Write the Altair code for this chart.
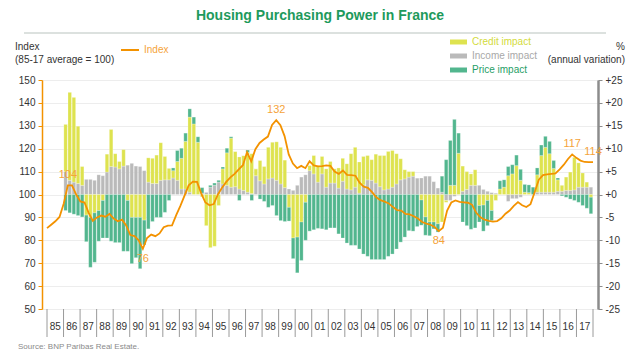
import altair as alt
import pandas as pd

# ---------------- data ----------------
# quarterly, 1985Q1 .. 2017Q4 for index; impacts start 1986Q1
year_labels = [f"{y % 100:02d}" for y in range(1985, 2018)]

index_vals = [
    85.3, 86.8, 88.3, 90.2,      # 1985
    96.0, 104.0, 104.0, 100.0,   # 1986
    97.0, 96.5, 92.0, 88.5,      # 1987
    90.0, 90.8, 90.3, 91.5,      # 1988
    89.5, 88.3, 89.0, 86.5,      # 1989
    82.3, 81.8, 80.0, 76.3,      # 1990
    81.0, 82.5, 81.8, 83.0,      # 1991
    85.7, 86.4, 86.5, 91.0,      # 1992
    95.0, 99.5, 104.0, 105.6,    # 1993
    105.5, 100.5, 96.5, 95.3,    # 1994
    95.8, 100.0, 103.0, 105.5,   # 1995
    107.5, 109.0, 111.0, 112.8,  # 1996
    118.5, 114.5, 119.8, 122.5,  # 1997
    124.0, 125.3, 130.4, 132.5,  # 1998
    130.3, 125.5, 117.5, 113.5,  # 1999
    111.5, 112.5, 111.5, 114.5,  # 2000
    112.7, 112.3, 112.4, 112.7,  # 2001
    112.5, 110.0, 109.0, 110.5,  # 2002
    108.6, 108.5, 108.2, 105.2,  # 2003
    103.4, 102.9, 101.0, 98.8,   # 2004
    97.5, 96.9, 96.1, 94.5,      # 2005
    93.2, 93.0, 91.5, 91.3,      # 2006
    90.5, 89.5, 88.0, 87.3,      # 2007
    86.8, 85.8, 84.0, 85.5,      # 2008
    93.0, 96.5, 97.4, 96.8,      # 2009
    96.6, 96.4, 95.5, 92.0,      # 2010
    90.0, 89.0, 88.5, 88.2,      # 2011
    88.4, 89.6, 91.6, 93.0,      # 2012
    95.0, 96.7, 95.3, 94.5,      # 2013
    95.8, 101.0, 106.5, 108.5,   # 2014
    108.8, 109.0, 109.2, 111.0,  # 2015
    113.0, 115.5, 117.5, 116.0,  # 2016
    114.8, 114.2, 114.1, 114.1,  # 2017
]

income_impact = [
    5.0, 3.1, 2.7, 2.4,   # 1986
    2.0, 3.3, 3.3, 3.1,   # 1987
    4.3, 4.1, 4.9, 6.1,   # 1988
    6.0, 5.6, 6.2, 6.4,   # 1989
    6.8, 6.2, 6.1, 5.2,   # 1990
    2.7, 2.4, 2.4, 3.1,   # 1991
    3.2, 3.2, 3.6, 3.1,   # 1992
    1.2, 1.2, 0.5, 0.0,   # 1993
    0.0, 0.3, 0.5, 1.6,   # 1994
    2.0, 2.7, 2.3, 2.0,   # 1995
    1.6, 1.7, 1.2, 0.9,   # 1996
    0.5, 0.2, 4.1, 3.0,   # 1997
    2.3, 3.4, 3.6, 3.1,   # 1998
    2.3, 1.5, 1.2, 0.9,   # 1999
    2.0, 3.8, 4.3, 5.2,   # 2000
    4.5, 2.7, 4.5, 1.6,   # 2001
    2.5, 2.5, 1.4, 2.9,   # 2002
    1.2, 1.0, 1.6, 0.3,   # 2003
    2.1, 3.2, 3.1, 2.5,   # 2004
    1.7, 1.0, 1.2, 1.6,   # 2005
    2.3, 3.2, 3.4, 3.8,   # 2006
    4.0, 3.6, 3.6, 4.0,   # 2007
    4.0, 2.8, 1.4, 0.5,   # 2008
    -1.3, -1.3, -0.4, 0.0,  # 2009
    0.7, 1.1, 2.0, 2.0,   # 2010
    2.0, 1.1, 0.7, 0.4,   # 2011
    0.3, 0.0, 0.0, -1.5,  # 2012
    -0.9, -0.9, -0.6, 0.0,  # 2013
    0.0, 0.0, 0.5, 0.5,   # 2014
    0.5, 0.5, 0.5, 0.7,   # 2015
    0.7, 0.9, 0.9, 1.0,   # 2016
    1.6, 1.6, 1.6, 1.6,   # 2017
]

credit_impact = [
    10.3, 19.2, 18.5, 12.5,  # 1986
    4.1, -4.5, -5.0, -4.0,   # 1987
    -3.5, -1.3, 3.9, 8.1,    # 1988
    2.9, 1.6, 3.6, -1.3,     # 1989
    -5.0, -5.0, -5.0, -5.6,  # 1990
    5.3, 5.5, 6.2, 8.2,      # 1991
    5.1, 2.5, 1.6, 4.1,      # 1992
    6.7, 10.4, 16.4, 15.4,   # 1993
    11.4, -0.5, -6.8, -11.6, # 1994
    -11.3, -2.4, 3.3, 7.1,   # 1995
    10.7, 7.7, 7.0, 7.6,     # 1996
    8.7, 8.7, 1.5, 4.4,      # 1997
    3.8, 6.9, 7.8, 8.4,      # 1998
    8.0, 6.0, -2.8, -9.5,    # 1999
    -9.3, -6.0, -1.7, 1.1,   # 2000
    4.0, 3.6, 3.8, 4.0,      # 2001
    4.7, 3.1, 4.4, 5.0,      # 2002
    5.5, 7.9, 8.7, 6.8,      # 2003
    6.2, 5.3, 4.5, 6.3,      # 2004
    6.8, 7.5, 8.2, 8.0,      # 2005
    6.6, 4.6, 2.0, 1.2,      # 2006
    1.0, 0.0, -1.2, -4.9,    # 2007
    -6.0, -6.0, -6.4, -6.0,  # 2008
    -0.4, 2.0, 2.0, 9.0,     # 2009
    5.5, 3.9, 2.5, 3.4,      # 2010
    -2.4, -2.3, -1.3, -3.5,  # 2011
    -1.3, 1.2, 1.6, 4.1,     # 2012
    4.5, 6.3, 3.1, 0.5,      # 2013
    0.4, 0.0, 3.8, 8.0,      # 2014
    9.8, 8.4, 5.2, 2.5,      # 2015
    1.3, 2.9, 4.0, 7.1,      # 2016
    5.3, 3.1, 1.1, -0.6,     # 2017
]

price_impact = [
    -3.5, -4.0, -4.3, -4.6,    # 1986
    -4.9, -5.8, -10.9, -10.8,  # 1987
    -6.7, -8.2, -9.5, -10.2,   # 1988
    -10.5, -10.5, -12.4, -11.1,  # 1989
    -10.1, -8.8, -11.2, -5.4,  # 1990
    -7.5, -5.9, -5.0, -5.0,    # 1991
    -3.9, -1.3, 0.6, 2.4,      # 1992
    2.2, 1.8, 1.8, 1.5,        # 1993
    1.2, 1.2, 0.0, 0.4,        # 1994
    0.5, 0.4, 0.4, 1.0,        # 1995
    0.3, 0.0, -1.3, 0.0,       # 1996
    0.5, -1.3, 0.0, -1.0,      # 1997
    -1.5, -2.8, -2.4, -4.6,    # 1998
    -5.7, -5.9, -3.0, -4.5,    # 1999
    -7.8, -8.4, -8.3, -8.0,    # 2000
    -7.7, -7.4, -7.5, -7.7,    # 2001
    -7.3, -7.3, -8.6, -9.5,    # 2002
    -10.6, -11.1, -11.1, -11.9,  # 2003
    -13.0, -13.5, -14.2, -14.2,  # 2004
    -14.2, -14.2, -13.5, -13.0,  # 2005
    -11.9, -10.4, -9.3, -7.9,  # 2006
    -8.0, -7.0, -5.5, -4.0,    # 2007
    -3.0, -1.5, -1.8, 3.5,     # 2008
    7.6, 9.8, 14.4, 4.4,       # 2009
    -6.0, -6.8, -7.6, -7.3,    # 2010
    -3.6, -5.7, -5.5, -2.2,    # 2011
    0.0, 1.8, 1.6, 2.0,        # 2012
    2.0, 2.3, 2.4, 1.7,        # 2013
    1.7, 1.6, 1.5, 2.3,        # 2014
    2.4, 2.7, 1.7, 0.4,        # 2015
    -0.3, -0.6, -1.0, -1.3,    # 2016
    -1.7, -2.4, -3.0, -3.6,    # 2017
]

series_names = ["Income impact", "Credit impact", "Price impact"]
series_colors = ["#BABABA", "#DEE34F", "#52B68E"]
legend_order = ["Credit impact", "Income impact", "Price impact"]
legend_text_colors = ["#D3DB3C", "#A8A8A8", "#1F9E66"]

# index annotations: quarter position, text, above/below
ann_i = [5, 23, 55, 94, 126, 131]
ann_txt = ["104", "76", "132", "84", "117", "114"]
ann_above = [True, False, True, False, True, True]

# ---------------- tables ----------------
N = len(index_vals)          # 132 quarters
FIRST_BAR_Q = 4              # impacts start in 1986Q1
rows = []
for p in range(len(income_impact)):
    q = FIRST_BAR_Q + p
    for k, (name, arr) in enumerate(zip(series_names, [income_impact, credit_impact, price_impact])):
        rows.append({"x": q + 0.5, "comp": name, "val": arr[p], "ord": k})
bar_df = pd.DataFrame(rows)

line_df = pd.DataFrame({"xi": [i * N / (N - 1) for i in range(N)], "idx": index_vals})

ann_df = pd.DataFrame({
    "xi": [i * N / (N - 1) for i in ann_i],
    "idx": [index_vals[i] for i in ann_i],
    "t": ann_txt,
    "above": ann_above,
})

year_df = pd.DataFrame({"c": [4 * k + 2 for k in range(len(year_labels))], "lab": year_labels})
sep_df = pd.DataFrame({"b": [4 * k for k in range(len(year_labels) + 1)]})

W, H = 556, 229
FONT = "Liberation Sans"
xscale = alt.Scale(domain=[0, N], nice=False, zero=False)
yl_scale = alt.Scale(domain=[50, 150], nice=False, zero=False)

bars = alt.Chart(bar_df).mark_bar(size=3.5, stroke="white", strokeWidth=0.4, strokeOpacity=0.6).encode(
    x=alt.X("x:Q", scale=xscale,
            axis=alt.Axis(values=list(range(0, N + 1)), tickSize=9, tickColor="#9A9A9A",
                          domainColor="#8C8C8C", domainWidth=1.5, labels=False, grid=False,
                          title=None)),
    y=alt.Y("val:Q", stack="zero", scale=alt.Scale(domain=[-25, 25], nice=False),
            axis=alt.Axis(orient="right", values=list(range(-25, 26, 5)), title=None,
                          grid=False, domainColor="#8C8C8C", domainWidth=2.5, tickColor="#8C8C8C",
                          tickSize=4, labelPadding=3, labelFontSize=10, labelColor="#333333",
                          labelFont=FONT,
                          labelExpr="datum.value > 0 ? '+' + datum.value : (datum.value == 0 ? '+0' : '-' + abs(datum.value))")),
    color=alt.Color("comp:N", scale=alt.Scale(domain=series_names, range=series_colors), legend=None),
    order=alt.Order("ord:Q", sort="ascending"),
)

line = alt.Chart(line_df).mark_line(color="#F39200", strokeWidth=1.8).encode(
    x=alt.X("xi:Q", scale=xscale, axis=None),
    y=alt.Y("idx:Q", scale=yl_scale,
            axis=alt.Axis(orient="left", values=list(range(50, 151, 10)), title=None, grid=True,
                          gridColor="#EDEDED", domainColor="#F39200", domainWidth=1.5,
                          tickColor="#F39200", tickSize=4, labelPadding=3, labelFontSize=10,
                          labelColor="#333333", labelFont=FONT)),
)

lab_above = alt.Chart(ann_df).transform_filter("datum.above").mark_text(
    font=FONT, fontSize=11, color="#F5A33A", dy=-10, baseline="middle").encode(
    x=alt.X("xi:Q", scale=xscale, axis=None),
    y=alt.Y("idx:Q", scale=yl_scale, axis=None),
    text="t:N",
)
lab_below = alt.Chart(ann_df).transform_filter("!datum.above").mark_text(
    font=FONT, fontSize=11, color="#F5A33A", dy=10, baseline="middle").encode(
    x=alt.X("xi:Q", scale=xscale, axis=None),
    y=alt.Y("idx:Q", scale=yl_scale, axis=None),
    text="t:N",
)

seps = alt.Chart(sep_df).mark_rule(color="#9A9A9A", strokeWidth=1).encode(
    x=alt.X("b:Q", scale=xscale, axis=None),
    y=alt.value(H), y2=alt.value(H + 28),
)
ylabs = alt.Chart(year_df).mark_text(font=FONT, fontSize=10, color="#333333", baseline="middle").encode(
    x=alt.X("c:Q", scale=xscale, axis=None),
    y=alt.value(H + 18),
    text="lab:N",
)

one = pd.DataFrame({"t": [""]})


def txt(s, x, y, size=10, color="#333333", align="left", weight="normal"):
    return alt.Chart(pd.DataFrame({"t": [s]})).mark_text(
        font=FONT, fontSize=size, color=color, align=align, baseline="middle", fontWeight=weight
    ).encode(x=alt.value(x), y=alt.value(y), text="t:N")


decor = [
    txt("Housing Purchasing Power in France", W / 2, -64, size=14, color="#1E9A5C", align="center", weight="bold"),
    alt.Chart(one).mark_rule(color="#B9C3BE", strokeWidth=1).encode(
        x=alt.value(-18), x2=alt.value(564), y=alt.value(-47)),
    txt("Index", -27, -33),
    txt("(85-17 average = 100)", -27, -20),
    alt.Chart(one).mark_rule(color="#F39200", strokeWidth=2).encode(
        x=alt.value(79), x2=alt.value(97), y=alt.value(-30)),
    txt("Index", 102, -30, color="#F5A33A"),
    txt("%", 583, -33, align="right"),
    txt("(annual variation)", 583, -20, align="right"),
    txt("Source: BNP Paribas Real Estate.", -24, H + 38, size=8, color="#8A8A8A"),
]
legend_y = [-38, -24, -10]
for name, tcol, ly in zip(legend_order, legend_text_colors, legend_y):
    fill = series_colors[series_names.index(name)]
    decor.append(alt.Chart(one).mark_rect(color=fill).encode(
        x=alt.value(408), x2=alt.value(425), y=alt.value(ly - 2.5), y2=alt.value(ly + 2.5)))
    decor.append(txt(name, 430, ly, color=tcol))

chart = alt.layer(bars, line, lab_above, lab_below, seps, ylabs, *decor).resolve_scale(
    y="independent"
).properties(
    width=W, height=H,
    autosize=alt.AutoSizeParams(type="none"),
    padding={"left": 34, "top": 72, "right": 34, "bottom": 43},
).configure_view(stroke=None).configure(font=FONT)

chart.save("out.html", embed_options={"renderer": "svg", "actions": False})
